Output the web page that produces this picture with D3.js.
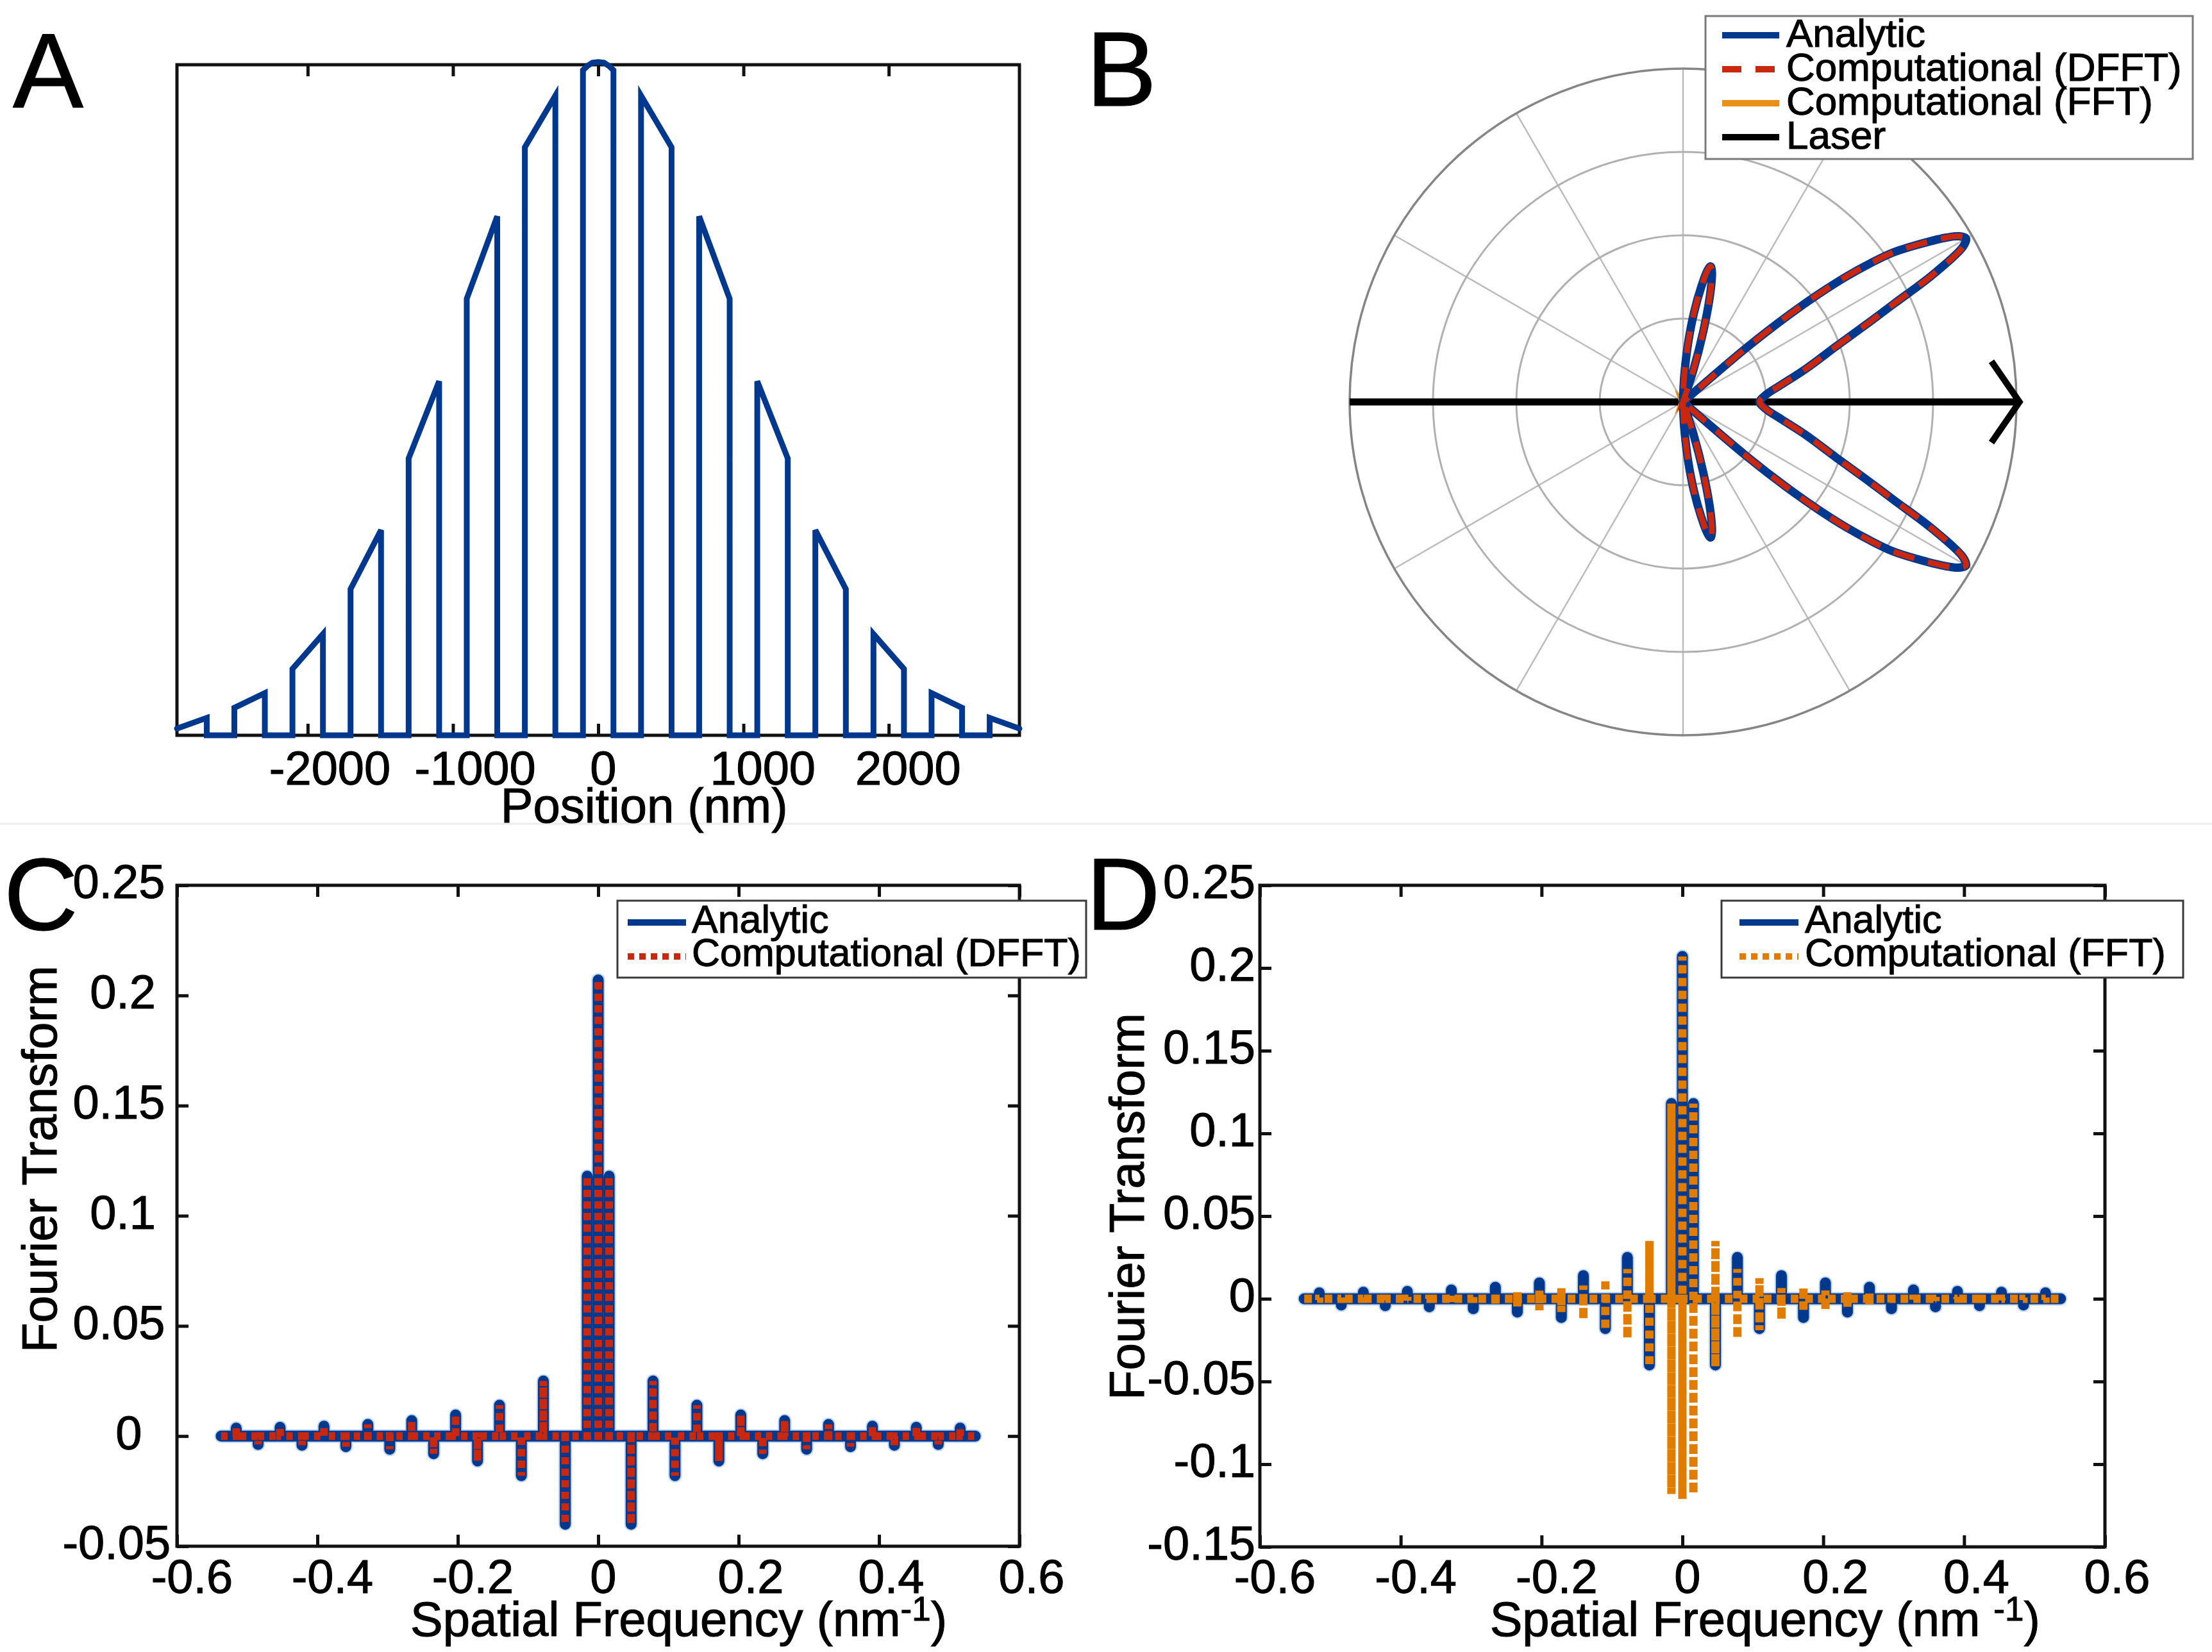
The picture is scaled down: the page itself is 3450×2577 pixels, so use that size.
<!DOCTYPE html>
<html><head><meta charset="utf-8">
<script src="https://cdnjs.cloudflare.com/ajax/libs/d3/7.8.5/d3.min.js"></script>
<style>html,body{margin:0;padding:0;background:#fff;} text{stroke:#000;stroke-width:1.1px;}</style>
</head><body><svg id="fig" width="3450" height="2577" xmlns="http://www.w3.org/2000/svg"></svg>
<script>
// ---------------- DATA ----------------
// Panel A: grating profile (position in nm, amplitude)
const positionNm = [-2900,-2695,-2695,-2505,-2505,-2295,-2295,-2105,-2105,-1895,-1895,-1705,-1705,-1495,-1495,-1305,-1305,-1095,-1095,-905,-905,-695,-695,-505,-505,-295,-295,-105,-105,-75,-40,0,40,75,105,105,295,295,505,505,695,695,905,905,1095,1095,1305,1305,1495,1495,1705,1705,1895,1895,2105,2105,2295,2295,2505,2505,2695,2695,2900];
const gratingAmp = [0.010,0.026,0,0,0.041,0.063,0,0,0.099,0.151,0,0,0.218,0.306,0,0,0.413,0.528,0,0,0.651,0.774,0,0,0.877,0.954,0,0,0.992,0.998,1.003,1.004,1.003,0.998,0.992,0,0,0.954,0.877,0,0,0.774,0.651,0,0,0.528,0.413,0,0,0.306,0.218,0,0,0.151,0.099,0,0,0.063,0.041,0,0,0.026,0.010];
const posTicks = [-2000,-1000,0,1000,2000];
const posTickLabels = ["-2000","-1000","0","1000","2000"];

// Panel B: polar far-field pattern (angle in degrees, normalised radius)
const polarTheta = [-90,-89,-87,-85,-83,-81,-79.5,-78.5,-77.5,-76,-74,-72,-70,-45,-40.5,-39.5,-38.5,-37.5,-36.5,-35.5,-34,-32,-31,-30,-29,-27,-25,-23,-20,-15,-10,-5,0,5,10,15,20,23,25,27,29,30,31,32,34,35.5,36.5,37.5,38.5,39.5,40.5,45,70,72,74,76,77.5,78.5,79.5,81,83,85,87,89,90];
const polarAnalytic = [0,0.02,0.09,0.18,0.27,0.35,0.40,0.415,0.40,0.34,0.22,0.10,0,0,0.25,0.40,0.52,0.62,0.70,0.77,0.84,0.93,0.965,0.98,0.96,0.84,0.70,0.60,0.49,0.38,0.30,0.25,0.23,0.25,0.30,0.38,0.49,0.60,0.70,0.84,0.96,0.98,0.965,0.93,0.84,0.77,0.70,0.62,0.52,0.40,0.25,0,0,0.10,0.22,0.34,0.40,0.415,0.40,0.35,0.27,0.18,0.09,0.02,0];
const polarDFFT = [0,0.02,0.09,0.18,0.27,0.35,0.40,0.415,0.40,0.34,0.22,0.10,0,0,0.25,0.40,0.52,0.62,0.70,0.77,0.84,0.93,0.965,0.98,0.96,0.84,0.70,0.60,0.49,0.38,0.30,0.25,0.23,0.25,0.30,0.38,0.49,0.60,0.70,0.84,0.96,0.98,0.965,0.93,0.84,0.77,0.70,0.62,0.52,0.40,0.25,0,0,0.10,0.22,0.34,0.40,0.415,0.40,0.35,0.27,0.18,0.09,0.02,0];
const polarFFT = [0,0.02,0.09,0.18,0.27,0.35,0.40,0.415,0.40,0.34,0.22,0.10,0,0,0.25,0.40,0.52,0.62,0.70,0.77,0.84,0.93,0.965,0.98,0.96,0.84,0.70,0.60,0.49,0.38,0.30,0.25,0.23,0.25,0.30,0.38,0.49,0.60,0.70,0.84,0.96,0.98,0.965,0.93,0.84,0.77,0.70,0.62,0.52,0.40,0.25,0,0,0.10,0.22,0.34,0.40,0.415,0.40,0.35,0.27,0.18,0.09,0.02,0];
const ringValues = [0.25,0.5,0.75,1];
const spokeAngles = [0,30,60,90,120,150];
const laserTheta = [180,0];
const laserR = [1,1.009];
const arrowTheta = [7.5,0,-7.5];
const arrowR = [0.933,1.009,0.933];
const legendBLabels = ["Analytic","Computational (DFFT)","Computational (FFT)","Laser"];

// Panels C & D: Fourier transforms (spatial frequency in nm^-1)
const freqSpan = [-0.537,0.537];
const spikeFreq = [-0.5156,-0.4844,-0.4531,-0.4219,-0.3906,-0.3594,-0.3281,-0.2969,-0.2656,-0.2344,-0.2031,-0.1719,-0.1406,-0.1094,-0.0781,-0.0469,-0.0156,0,0.0156,0.0469,0.0781,0.1094,0.1406,0.1719,0.2031,0.2344,0.2656,0.2969,0.3281,0.3594,0.3906,0.4219,0.4531,0.4844,0.5156];
const analyticFT = [0.0036,-0.0038,0.0040,-0.0042,0.0045,-0.0048,0.0053,-0.0060,0.0070,-0.0080,0.0096,-0.0113,0.0140,-0.0180,0.0250,-0.0400,0.1180,0.2070,0.1180,-0.0400,0.0250,-0.0180,0.0140,-0.0113,0.0096,-0.0080,0.0070,-0.0060,0.0053,-0.0048,0.0045,-0.0042,0.0040,-0.0038,0.0036];
const dfftFT = [0.0036,-0.0038,0.0040,-0.0042,0.0045,-0.0048,0.0053,-0.0060,0.0070,-0.0080,0.0096,-0.0113,0.0140,-0.0180,0.0250,-0.0400,0.1180,0.2070,0.1180,-0.0400,0.0250,-0.0180,0.0140,-0.0113,0.0096,-0.0080,0.0070,-0.0060,0.0053,-0.0048,0.0045,-0.0042,0.0040,-0.0038,0.0036];
const fftHigh = [0.0008,0.0008,0.0010,0.0010,0.0012,0.0015,0.0020,0.0022,0.0035,0.0040,0.0050,0.0065,0.0080,0.0120,0.0180,0.0350,0.1180,0.2070,0.1180,0.0350,0.0180,0.0125,0.0065,0.0070,0.0050,0.0040,0.0035,0.0022,0.0020,0.0015,0.0012,0.0010,0.0010,0.0008,0.0008];
const fftLow = [-0.0008,-0.0008,-0.0010,-0.0010,-0.0012,-0.0015,-0.0020,-0.0022,-0.0040,-0.0048,-0.0070,-0.0080,-0.0125,-0.0190,-0.0240,-0.0410,-0.1180,-0.1210,-0.1180,-0.0410,-0.0240,-0.0190,-0.0125,-0.0080,-0.0075,-0.0048,-0.0040,-0.0022,-0.0020,-0.0015,-0.0012,-0.0010,-0.0010,-0.0008,-0.0008];
const freqTicks = [-0.6,-0.4,-0.2,0,0.2,0.4,0.6];
const freqTickLabels = ["-0.6","-0.4","-0.2","0","0.2","0.4","0.6"];
const ftTicksC = [-0.05,0,0.05,0.1,0.15,0.2,0.25];
const ftTickLabelsC = ["-0.05","0","0.05","0.1","0.15","0.2","0.25"];
const ftTicksD = [-0.15,-0.1,-0.05,0,0.05,0.1,0.15,0.2,0.25];
const ftTickLabelsD = ["-0.15","-0.1","-0.05","0","0.05","0.1","0.15","0.2","0.25"];

// ---------------- STYLE ----------------
const BLUE = "#00388e", RED = "#c8280f", ORANGE = "#e07d00", ORANGE_B = "#e8901a", HALO = "#a6c6ea";
const FONT = '"Liberation Sans", Arial, Helvetica, sans-serif';
const TICKFS = 74, LABFS = 76, LEGFS = 61;

const svg = d3.select("#fig");
svg.append("rect").attr("width",3450).attr("height",2577).attr("fill","#fff");
svg.append("line").attr("x1",0).attr("x2",3450).attr("y1",1285).attr("y2",1285)
  .attr("stroke","#ececec").attr("stroke-width",3);

function txt(g, s, x, y, fs, anchor){
  return g.append("text").attr("x",x).attr("y",y).attr("font-family",FONT)
    .attr("font-size",fs).attr("fill","#000").attr("text-anchor",anchor||"start").text(s);
}

function frame(g, b){
  g.append("rect").attr("x",b.x0).attr("y",b.y0).attr("width",b.x1-b.x0).attr("height",b.y1-b.y0)
   .attr("fill","none").attr("stroke","#111").attr("stroke-width",5);
}

function styleAxis(a){
  a.attr("font-family",FONT).attr("font-size",TICKFS);
  a.select(".domain").remove();
  a.selectAll(".tick line").attr("stroke","#111").attr("stroke-width",5);
  a.selectAll(".tick text").attr("fill","#000");
}

function xAxes(g, x, b, ticks, labels, baseline){
  const bot = g.append("g").attr("transform",`translate(0,${b.y1})`)
    .call(d3.axisBottom(x).tickValues(ticks).tickSizeInner(-18).tickSizeOuter(0).tickFormat((d,i)=>labels[i]));
  styleAxis(bot);
  bot.selectAll(".tick text").attr("y",baseline-b.y1).attr("dy",0).attr("text-anchor","start")
    .each(function(){ const w=this.getComputedTextLength(); d3.select(this).attr("x",-0.32*w); });
  const top = g.append("g").attr("transform",`translate(0,${b.y0})`)
    .call(d3.axisTop(x).tickValues(ticks).tickSizeInner(-18).tickSizeOuter(0).tickFormat(""));
  styleAxis(top);
}

function yAxes(g, y, b, ticks, labels, mode){
  const left = g.append("g").attr("transform",`translate(${b.x0},0)`)
    .call(d3.axisLeft(y).tickValues(ticks).tickSizeInner(-18).tickSizeOuter(0).tickFormat((d,i)=>labels[i]));
  styleAxis(left);
  const t = left.selectAll(".tick text").attr("dy","0.27em");
  if(mode.type==="frac"){
    t.attr("text-anchor","start").each(function(){ const w=this.getComputedTextLength(); d3.select(this).attr("x",(mode.anchor-b.x0)-0.65*w); });
  } else {
    t.attr("text-anchor","end").attr("x",mode.anchor-b.x0);
  }
  const right = g.append("g").attr("transform",`translate(${b.x1},0)`)
    .call(d3.axisRight(y).tickValues(ticks).tickSizeInner(-18).tickSizeOuter(0).tickFormat(""));
  styleAxis(right);
}

// ---------------- PANEL A ----------------
{
  const b = {x0:276, x1:1590, y0:101, y1:1147};
  const g = svg.append("g");
  const x = d3.scaleLinear().domain([-2900,2900]).range([b.x0,b.x1]);
  const y = d3.scaleLinear().domain([0,1]).range([b.y1,b.y0]);
  frame(g,b);
  xAxes(g,x,b,posTicks,posTickLabels,1224);
  const pts = positionNm.map((p,i)=>[p,gratingAmp[i]]);
  g.append("path").attr("d",d3.line().x(d=>x(d[0])).y(d=>y(d[1]))(pts))
    .attr("fill","none").attr("stroke",BLUE).attr("stroke-width",9).attr("stroke-linejoin","miter").attr("stroke-linecap","round");
  const t = txt(g,"Position (nm)",0,1283,LABFS);
  const w = t.node().getComputedTextLength();
  t.attr("x",(b.x0+b.x1)/2-0.34*w);
  txt(g,"A",20,167,165);
}

// ---------------- PANEL B ----------------
{
  const cx = 2625, cy = 627, R = 520;
  const g = svg.append("g").attr("transform",`translate(${cx},${cy})`);
  const r = d3.scaleLinear().domain([0,1]).range([0,R]);
  const ang = t => (90 - t) * Math.PI / 180;
  spokeAngles.forEach(a=>{
    const p1 = d3.pointRadial(ang(a), r(1)), p2 = d3.pointRadial(ang(a+180), r(1));
    g.append("line").attr("x1",p1[0]).attr("y1",p1[1]).attr("x2",p2[0]).attr("y2",p2[1])
      .attr("stroke","#bcbcbc").attr("stroke-width",2.5);
  });
  ringValues.forEach(v=>{
    g.append("circle").attr("r",r(v)).attr("fill","none")
      .attr("stroke", v===1 ? "#858585" : "#b0b0b0").attr("stroke-width", v===1 ? 3.5 : 3);
  });
  const straight = d3.lineRadial().angle(d=>ang(d[0])).radius(d=>r(d[1]));
  g.append("path").attr("d",straight(laserTheta.map((t,i)=>[t,laserR[i]])))
    .attr("fill","none").attr("stroke","#000").attr("stroke-width",11);
  g.append("path").attr("d",straight(arrowTheta.map((t,i)=>[t,arrowR[i]])))
    .attr("fill","none").attr("stroke","#000").attr("stroke-width",10).attr("stroke-linejoin","miter");
  const curve = d3.lineRadial().angle(d=>ang(d[0])).radius(d=>r(d[1])).curve(d3.curveCatmullRom.alpha(0.5));
  g.append("path").attr("d",curve(polarTheta.map((t,i)=>[t,polarFFT[i]])))
    .attr("fill","none").attr("stroke",ORANGE_B).attr("stroke-width",12);
  g.append("path").attr("d",curve(polarTheta.map((t,i)=>[t,polarAnalytic[i]])))
    .attr("fill","none").attr("stroke",BLUE).attr("stroke-width",13).attr("stroke-linejoin","round");
  g.append("path").attr("d",curve(polarTheta.map((t,i)=>[t,polarDFFT[i]])))
    .attr("fill","none").attr("stroke",RED).attr("stroke-width",9).attr("stroke-dasharray","34,22");

  // legend
  const lg = svg.append("g");
  lg.append("rect").attr("x",2660).attr("y",25).attr("width",760).attr("height",223)
    .attr("fill","#fff").attr("stroke","#7a7a7a").attr("stroke-width",3);
  const styles = [{c:BLUE,d:null},{c:RED,d:"30,22"},{c:ORANGE_B,d:null},{c:"#000",d:null}];
  legendBLabels.forEach((s,i)=>{
    const yb = 73 + i*53;
    const l = lg.append("line").attr("x1",2686).attr("x2",2775).attr("y1",yb-18).attr("y2",yb-18)
      .attr("stroke",styles[i].c).attr("stroke-width",10);
    if(styles[i].d) l.attr("stroke-dasharray",styles[i].d);
    txt(lg,s,2786,yb,62);
  });
  txt(svg,"B",1694,165,165);
}

// ---------------- PANELS C & D ----------------
function spikePath(vals){
  const pts = [[freqSpan[0],0]];
  spikeFreq.forEach((f,i)=>{ pts.push([f,0],[f,vals[i]],[f,0]); });
  pts.push([freqSpan[1],0]);
  return pts;
}
function fftPath(){
  const pts = [[freqSpan[0],0]];
  spikeFreq.forEach((f,i)=>{ pts.push([f,0],[f,fftHigh[i]],[f,fftLow[i]],[f,0]); });
  pts.push([freqSpan[1],0]);
  return pts;
}

function ftPanel(cfg){
  const b = cfg.box;
  const g = svg.append("g");
  const x = d3.scaleLinear().domain([-0.6,0.6]).range([b.x0,b.x1]);
  const y = d3.scaleLinear().domain(cfg.yDomain).range([b.y1,b.y0]);
  frame(g,b);
  xAxes(g,x,b,freqTicks,freqTickLabels,2485);
  yAxes(g,y,b,cfg.yTicks,cfg.yLabels,cfg.yMode);
  const line = d3.line().x(d=>x(d[0])).y(d=>y(d[1]));
  const an = line(spikePath(analyticFT));
  g.append("path").attr("d",an).attr("fill","none").attr("stroke",HALO).attr("stroke-width",21)
    .attr("stroke-linejoin","round").attr("stroke-linecap","round").attr("opacity",0.8);
  g.append("path").attr("d",an).attr("fill","none").attr("stroke",BLUE).attr("stroke-width",17)
    .attr("stroke-linejoin","round").attr("stroke-linecap","round");
  const comp = cfg.kind==="DFFT" ? line(spikePath(dfftFT)) : line(fftPath());
  g.append("path").attr("d",comp).attr("fill","none").attr("stroke",cfg.kind==="DFFT"?RED:ORANGE)
    .attr("stroke-width",cfg.kind==="DFFT"?12:13).attr("stroke-dasharray",cfg.kind==="DFFT"?"10,8":"12,8")
    .attr("stroke-linejoin","miter");

  // legend
  const L = cfg.legend;
  g.append("rect").attr("x",L.x0).attr("y",1405).attr("width",L.x1-L.x0).attr("height",120)
    .attr("fill","#fff").attr("stroke","#3a3a3a").attr("stroke-width",3);
  g.append("line").attr("x1",L.s0).attr("x2",L.s1).attr("y1",1439).attr("y2",1439)
    .attr("stroke",BLUE).attr("stroke-width",10);
  g.append("line").attr("x1",L.s0).attr("x2",L.s1).attr("y1",1492).attr("y2",1492)
    .attr("stroke",cfg.kind==="DFFT"?RED:ORANGE).attr("stroke-width",10).attr("stroke-dasharray","10,8");
  txt(g,"Analytic",L.t,1455,LEGFS);
  txt(g,cfg.kind==="DFFT"?"Computational (DFFT)":"Computational (FFT)",L.t,1507,LEGFS);

  // axis titles
  const xt = g.append("text").attr("y",2552).attr("font-family",FONT).attr("font-size",LABFS).attr("fill","#000");
  xt.append("tspan").text(cfg.kind==="DFFT" ? "Spatial Frequency (nm" : "Spatial Frequency (nm ");
  xt.append("tspan").attr("dy",-24).attr("font-size",53).text("-1");
  xt.append("tspan").attr("dy",24).text(")");
  const w = xt.node().getComputedTextLength();
  xt.attr("x",(b.x0+b.x1)/2-0.35*w);
  g.append("text").attr("transform",`translate(${cfg.yLabel.x},${cfg.yLabel.y}) rotate(-90)`)
    .attr("font-family",FONT).attr("font-size",76).attr("fill","#000").attr("text-anchor","start")
    .text("Fourier Transform");
  txt(g,cfg.letter,cfg.letterX,1450,160);
}

ftPanel({box:{x0:276,x1:1590,y0:1381,y1:2412}, yDomain:[-0.05,0.25], yTicks:ftTicksC, yLabels:ftTickLabelsC,
  yMode:{type:"frac",anchor:207}, kind:"DFFT", legend:{x0:963,x1:1694,s0:979,s1:1070,t:1079},
  yLabel:{x:88,y:2110}, letter:"C", letterX:6});
ftPanel({box:{x0:1965,x1:3283,y0:1381,y1:2413}, yDomain:[-0.15,0.25], yTicks:ftTicksD, yLabels:ftTickLabelsD,
  yMode:{type:"end",anchor:1958}, kind:"FFT", legend:{x0:2685,x1:3405,s0:2713,s1:2805,t:2815},
  yLabel:{x:1784,y:2184}, letter:"D", letterX:1694});
</script></body></html>
